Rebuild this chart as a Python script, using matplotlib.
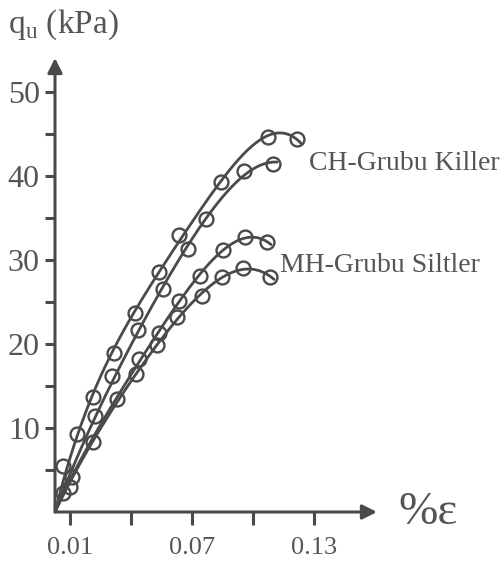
import numpy as np
import matplotlib
matplotlib.use('Agg')
import matplotlib.pyplot as plt

plt.rcParams['font.family'] = ['Liberation Serif', 'DejaVu Serif']
plt.rcParams['mathtext.fontset'] = 'custom'
plt.rcParams['mathtext.rm'] = 'Liberation Serif'

GRAY = '#4a4a4a'
TXT = '#555555'

# strain (%) and q_u (kPa)
ch1_x = [0.0066, 0.0134, 0.0213, 0.0316, 0.0420, 0.0538, 0.0636, 0.0843, 0.1074, 0.1217]
ch1_y = [5.5, 9.3, 13.7, 18.9, 23.7, 28.5, 32.9, 39.2, 44.6, 44.4]

ch2_x = [0.0100, 0.0223, 0.0307, 0.0434, 0.0557, 0.0680, 0.0769, 0.0956, 0.1099]
ch2_y = [3.0, 11.4, 16.2, 21.7, 26.5, 31.3, 34.8, 40.6, 41.4]

mh1_x = [0.0110, 0.0331, 0.0439, 0.0538, 0.0636, 0.0739, 0.0853, 0.0961, 0.1069]
mh1_y = [4.2, 13.5, 18.2, 21.3, 25.1, 28.1, 31.2, 32.7, 32.1]

mh2_x = [0.0066, 0.0213, 0.0425, 0.0528, 0.0626, 0.0749, 0.0848, 0.0951, 0.1084]
mh2_y = [2.3, 8.3, 16.4, 19.9, 23.2, 25.7, 27.9, 29.0, 28.0]

x_ticks = [0.01, 0.04, 0.07, 0.10, 0.13]
x_labels = ['0.01', '', '0.07', '', '0.13']
y_ticks = [5, 10, 15, 20, 25, 30, 35, 40, 45, 50]
y_labels = ['', '10', '', '20', '', '30', '', '40', '', '50']

X0, X1 = 0.0026, 0.161
Y0, Y1 = 0.0, 54.0


def trend(xs, ys, xend, deg=4):
    # polynomial trend line forced through the origin of the axes
    X = np.asarray(xs) - X0
    A = np.vstack([X**k for k in range(1, deg + 1)]).T
    c = np.linalg.lstsq(A, np.asarray(ys), rcond=None)[0]
    t = np.linspace(0, xend - X0, 200)
    return t + X0, sum(c[k - 1] * t**k for k in range(1, deg + 1))


fig = plt.figure(figsize=(5.01, 5.64), dpi=100)
ax = fig.add_axes([55/501, 52/564, 322/501, 454/564])
ax.set_xlim(X0, X1)
ax.set_ylim(Y0, Y1)

for xs, ys in [(ch1_x, ch1_y), (ch2_x, ch2_y), (mh1_x, mh1_y), (mh2_x, mh2_y)]:
    lx, ly = trend(xs, ys, xs[-1] + 0.002)
    ax.plot(lx, ly, color=GRAY, lw=2.0, solid_capstyle='round')
    ax.plot(xs, ys, 'o', ms=10, mfc='none', mec=GRAY, mew=1.7)

for s in ax.spines.values():
    s.set_visible(False)

ax.annotate('', xy=(0, 1), xytext=(0, 0), xycoords='axes fraction',
            arrowprops=dict(arrowstyle='-|>', lw=2.2, color=GRAY, mutation_scale=22,
                            shrinkA=0, shrinkB=0))
ax.annotate('', xy=(1, 0), xytext=(0, 0), xycoords='axes fraction',
            arrowprops=dict(arrowstyle='-|>', lw=2.2, color=GRAY, mutation_scale=22,
                            shrinkA=0, shrinkB=0))

ax.set_xticks(x_ticks)
ax.set_xticklabels(x_labels)
ax.set_yticks(y_ticks)
ax.set_yticklabels(y_labels)
ax.tick_params(axis='x', direction='out', length=9, width=2.2, color=GRAY,
               labelsize=19, labelcolor=TXT, pad=9)
ax.tick_params(axis='y', direction='out', length=7, width=2.2, color=GRAY,
               labelsize=23, labelcolor=TXT, pad=4)

ax.text(0.1275, 41.5, 'CH-Grubu Killer', fontsize=20, color=TXT, va='center')
ax.text(0.1135, 29.3, 'MH-Grubu Siltler', fontsize=20, color=TXT, va='center')
fig.text(398/501, 1 - 513/564, '%ε', fontsize=34, color=TXT, va='center')
fig.text(8/501, 1 - 25/564, r'q$_{\mathrm{u}}$ (kPa)', fontsize=24, color=TXT, va='center')

fig.savefig('out.png', dpi=100)
